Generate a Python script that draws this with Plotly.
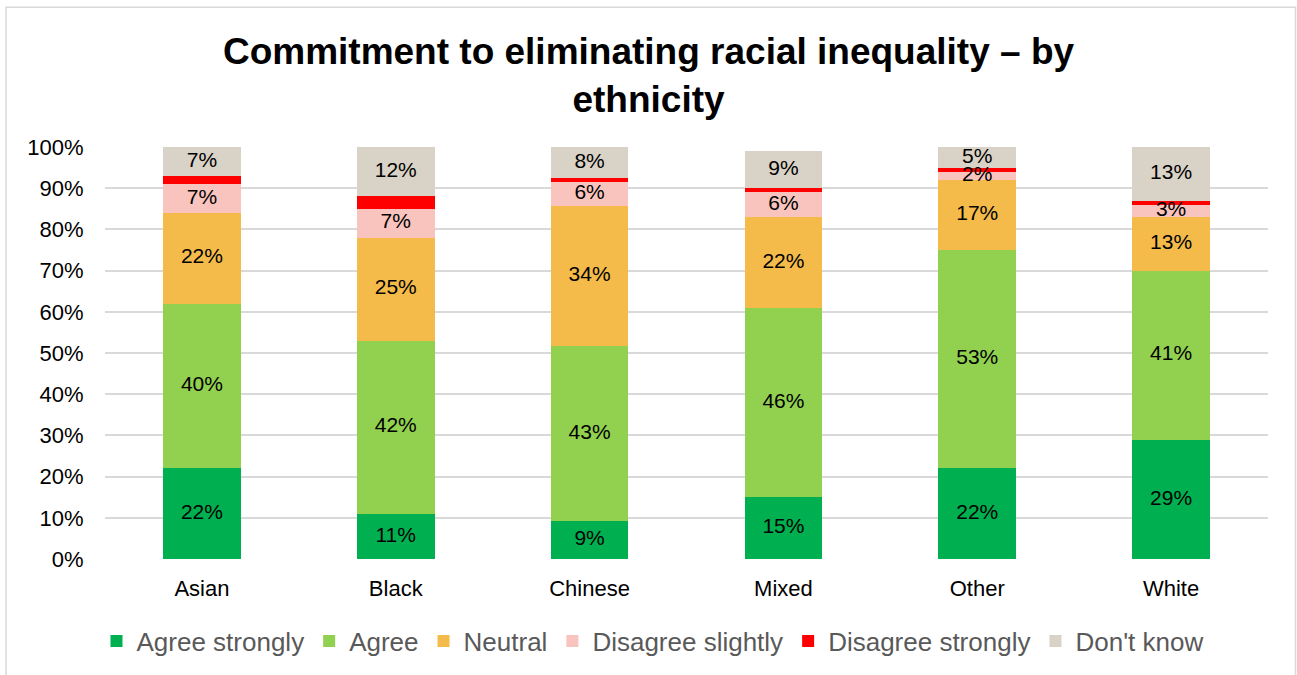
import plotly.graph_objects as go

categories = ["Asian", "Black", "Chinese", "Mixed", "Other", "White"]
series_names = ["Agree strongly", "Agree", "Neutral", "Disagree slightly", "Disagree strongly", "Don't know"]
agree_strongly = [22, 11, 9.2, 15, 22, 29]
agree = [40, 42, 42.6, 46, 53, 41]
neutral = [22, 25, 33.9, 22, 17, 13]
disagree_slightly = [7, 7, 5.8, 6, 2, 3]
disagree_strongly = [2, 3, 1.0, 1, 1, 1]
dont_know = [7, 12, 7.5, 9, 5, 13]
show_label = [True, True, True, True, False, True]
colors = ["#00B050", "#92D050", "#F4BB4A", "#F8C4BD", "#FF0000", "#D9D2C6"]
y_ticks = list(range(0, 101, 10))

series = [agree_strongly, agree, neutral, disagree_slightly, disagree_strongly, dont_know]

fig = go.Figure()
for name, vals, col in zip(series_names, series, colors):
    fig.add_trace(go.Bar(x=categories, y=vals, name=name, marker=dict(color=col, line=dict(width=0)),
                         hoverinfo="skip"))

# data labels at segment midpoints
base = [0.0] * len(categories)
lx, ly, lt = [], [], []
for vals, show in zip(series, show_label):
    for i, v in enumerate(vals):
        if show:
            lx.append(categories[i])
            ly.append(base[i] + v / 2)
            lt.append(f"{round(v)}%")
        base[i] += v
fig.add_trace(go.Scatter(x=lx, y=ly, text=lt, mode="text", showlegend=False,
                         textfont=dict(family="Liberation Sans, Arial", size=21, color="#000000"),
                         cliponaxis=False, hoverinfo="skip"))

L, R, T, B = 105, 29, 147, 115
W, H = 1297, 675
pw, ph = W - L - R, H - T - B

fig.update_layout(
    width=W, height=H, barmode="stack", bargap=0.6,
    margin=dict(l=L, r=R, t=T, b=B),
    paper_bgcolor="white", plot_bgcolor="white",
    font=dict(family="Liberation Sans, Arial", color="#000000"),
    title=dict(text="<b>Commitment to eliminating racial inequality – by<br>ethnicity</b>",
               x=0.5, xanchor="center", y=1 - 64 / H, yanchor="middle",
               font=dict(size=37, color="#000000")),
    xaxis=dict(showgrid=False, showline=False, tickfont=dict(size=22, color="#000000"),
               ticks="outside", ticklen=10, tickcolor="rgba(0,0,0,0)"),
    yaxis=dict(range=[0, 100], tickvals=y_ticks, ticktext=[f"{t}%" for t in y_ticks],
               showgrid=True, gridcolor="#D9D9D9", gridwidth=1.5, zeroline=False,
               tickfont=dict(size=22, color="#000000"), ticks="outside", ticklen=16,
               tickcolor="rgba(0,0,0,0)"),
    legend=dict(orientation="h", x=0.5 - 34 / pw, xanchor="center", y=(560 - 641) / ph, yanchor="middle",
                font=dict(size=26, color="#595959"), traceorder="normal", itemwidth=30),
    shapes=[dict(type="rect", xref="paper", yref="paper",
                 x0=(6 - L) / pw, x1=(1295.5 - L) / pw,
                 y0=(560 - 690) / ph, y1=(560 - 7) / ph,
                 line=dict(color="#D9D9D9", width=1.5), fillcolor="rgba(0,0,0,0)", layer="below")],
)

fig.write_html("out.html")
